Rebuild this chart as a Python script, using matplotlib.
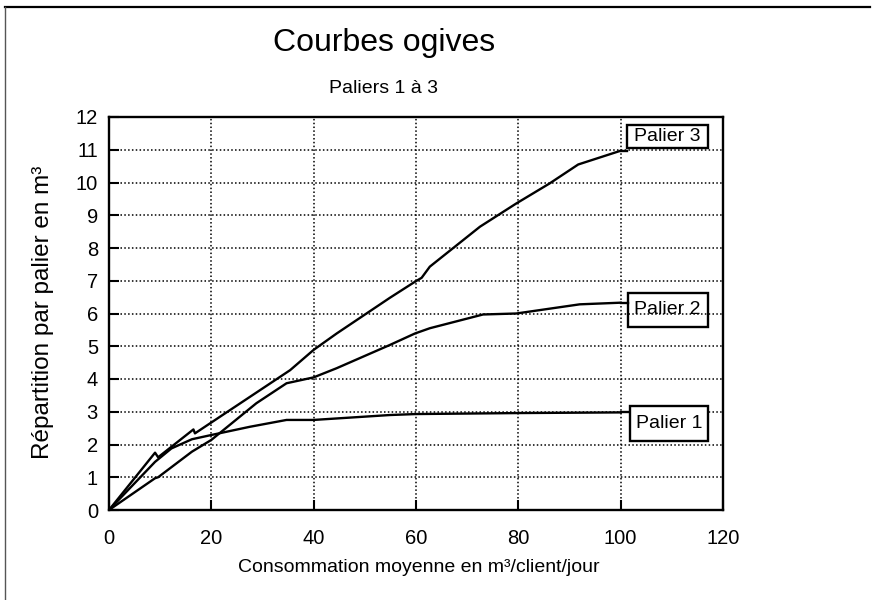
import matplotlib
matplotlib.use("Agg")
import matplotlib.pyplot as plt
from matplotlib.patches import Rectangle
from matplotlib.lines import Line2D

plt.rcParams['font.family'] = ['Liberation Sans', 'DejaVu Sans']

# donnees
p1_x = [0, 9.0, 12.2, 16.2, 20, 27.5, 34.7, 40, 54.9, 60, 80, 100]
p1_y = [0, 1.47, 1.88, 2.16, 2.29, 2.54, 2.75, 2.75, 2.90, 2.93, 2.96, 2.98]

p2_x = [0, 9.0, 9.6, 16.2, 20, 28.8, 34.7, 40, 44.5, 54.9, 59.8, 62.7, 73.1, 79.6, 92, 100]
p2_y = [0, 0.97, 1.0, 1.78, 2.14, 3.26, 3.87, 4.05, 4.33, 5.04, 5.39, 5.55, 5.97, 6.0, 6.28, 6.33]

p3_x = [0, 9.0, 9.6, 16.5, 16.8, 35.4, 40, 44.5, 54.9, 59.8, 61.1, 62.7, 72.5, 79.6, 86.1, 91.7, 100]
p3_y = [0, 1.75, 1.61, 2.46, 2.34, 4.27, 4.89, 5.39, 6.48, 6.97, 7.09, 7.43, 8.65, 9.36, 9.97, 10.55, 10.97]

noms = ['Palier 1', 'Palier 2', 'Palier 3']
x_ticks = [0, 20, 40, 60, 80, 100, 120]
y_ticks = list(range(0, 13))

fig = plt.figure(figsize=(8.72, 6), dpi=100)
ax = fig.add_axes([109/872, 90/600, 614/872, 393/600])

series = [(p1_x, p1_y), (p2_x, p2_y), (p3_x, p3_y)]
for xs, ys in series:
    ax.plot(xs, ys, color='black', lw=1.7, zorder=3)

ax.set_xlim(0, 120)
ax.set_ylim(0, 12)
ax.set_xticks(x_ticks)
ax.set_yticks(y_ticks)
ax.grid(True, color='black', linestyle=(0, (1, 1.5)), linewidth=1.1)
ax.tick_params(direction='in', length=7, width=1.5, labelsize=14.5)
ax.tick_params(axis='x', pad=14)
ax.tick_params(axis='y', pad=8)
for s in ax.spines.values():
    s.set_linewidth(1.7)

# etiquettes encadrees a droite des courbes
boites = [(101.8, 2.11, 3.18, 'white'), (101.4, 5.59, 6.63, 'none'), (101.2, 11.05, 11.76, 'none')]
for (xs, ys), nom, (bx, b0, b1, fc) in zip(series, noms, boites):
    ax.plot([xs[-1], bx], [ys[-1], ys[-1]], color='black', lw=1.7, zorder=3)
    ax.add_patch(Rectangle((bx, b0), 117.0 - bx, b1 - b0, facecolor=fc,
                           edgecolor='black', lw=1.7, zorder=4))
    ax.text((bx + 117.0) / 2, (b0 + b1) / 2, nom, ha='center', va='center',
            fontsize=14, zorder=5)

fig.text(384/872, 1 - 43/600, 'Courbes ogives', ha='center', va='center', fontsize=23)
fig.text(383/872, 1 - 88/600, 'Paliers 1 à 3', ha='center', va='center', fontsize=14)
fig.text(419/872, 1 - 567/600, 'Consommation moyenne en m³/client/jour',
         ha='center', va='center', fontsize=14)
fig.text(43/872, 1 - 312/600, 'Répartition par palier en m³', ha='center', va='center',
         rotation=90, fontsize=17.5)

# cadre du scan (haut et gauche)
fig.add_artist(Line2D([5/872, 870/872], [1 - 7/600, 1 - 7/600], color='black', lw=1.6))
fig.add_artist(Line2D([5/872, 5/872], [1 - 7/600, 0], color='#555555', lw=1))

fig.savefig('out.png', dpi=100)
